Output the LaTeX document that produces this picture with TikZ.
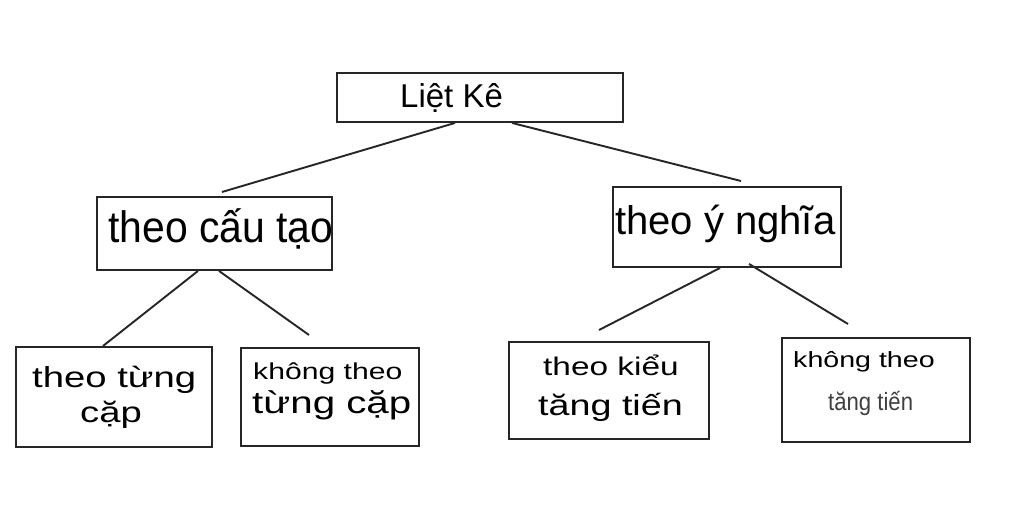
\documentclass[tikz,border=0pt]{standalone}
\usepackage{fontspec}
\usepackage{graphicx}
\setmainfont{Liberation Sans}
\begin{document}
\begin{tikzpicture}[x=1pt,y=-1pt,
  box/.style={draw=black!85, line width=1.9pt, rectangle, inner sep=0pt},
  txt/.style={inner sep=0pt, anchor=base west, text=black},
  link/.style={draw=black!85, line width=1.9pt}]
\useasboundingbox[fill=white] (0,0) rectangle (1024,526);
% boxes
\node[box, minimum width=286pt, minimum height=49pt] (root) at (480,97.5) {};
\node[box, minimum width=235pt, minimum height=73pt] (left) at (214.5,233.5) {};
\node[box, minimum width=228pt, minimum height=80pt] (right) at (727,227) {};
\node[box, minimum width=196pt, minimum height=100pt] (b1) at (114,397) {};
\node[box, minimum width=178pt, minimum height=98pt] (b2) at (330,397) {};
\node[box, minimum width=200pt, minimum height=97pt] (b3) at (609,390.5) {};
\node[box, minimum width=188pt, minimum height=104pt] (b4) at (876,390) {};
% texts
\node[txt] (troot) at (400,108) {\fontsize{33}{36}\selectfont Liệt Kê};
\node[txt] (tleft) at (108,243) {\scalebox{0.93}[1]{\fontsize{44}{48}\selectfont theo cấu tạo}};
\node[txt] (tright) at (615,235) {\fontsize{40}{44}\selectfont theo ý nghĩa};
\node[txt] (t1a) at (32,387) {\scalebox{1.32}[1]{\fontsize{29}{32}\selectfont theo từng}};
\node[txt] (t1b) at (80,422) {\scalebox{1.32}[1]{\fontsize{29}{32}\selectfont cặp}};
\node[txt] (t2a) at (253,379) {\scalebox{1.31}[1]{\fontsize{23}{26}\selectfont không theo}};
\node[txt] (t2b) at (252,413) {\scalebox{1.3}[1]{\fontsize{31}{34}\selectfont từng cặp}};
\node[txt] (t3a) at (543,375) {\scalebox{1.31}[1]{\fontsize{25.5}{28}\selectfont theo kiểu}};
\node[txt] (t3b) at (538,415) {\scalebox{1.3}[1]{\fontsize{29}{32}\selectfont tăng tiến}};
\node[txt] (t4a) at (793,367) {\scalebox{1.3}[1]{\fontsize{22}{25}\selectfont không theo}};
\node[txt, text=black!75] (t4b) at (828,410) {\scalebox{0.885}[1]{\fontsize{25}{28}\selectfont tăng tiến}};
% free ends of connectors
\coordinate (eL) at (222,192);
\coordinate (eR) at (741,181);
\coordinate (e1) at (103,346);
\coordinate (e2) at (309,335);
\coordinate (e3) at (599,330);
\coordinate (e4) at (848,324);
% connectors
\draw[link] ([xshift=-25pt]root.south) -- (eL);
\draw[link] ([xshift=32pt]root.south) -- (eR);
\draw[link] ([xshift=-16.5pt]left.south) -- (e1);
\draw[link] ([xshift=4.5pt]left.south) -- (e2);
\draw[link] ([xshift=-7pt]right.south) -- (e3);
\draw[link] ([xshift=22pt,yshift=4pt]right.south) -- (e4);
\end{tikzpicture}
\end{document}
